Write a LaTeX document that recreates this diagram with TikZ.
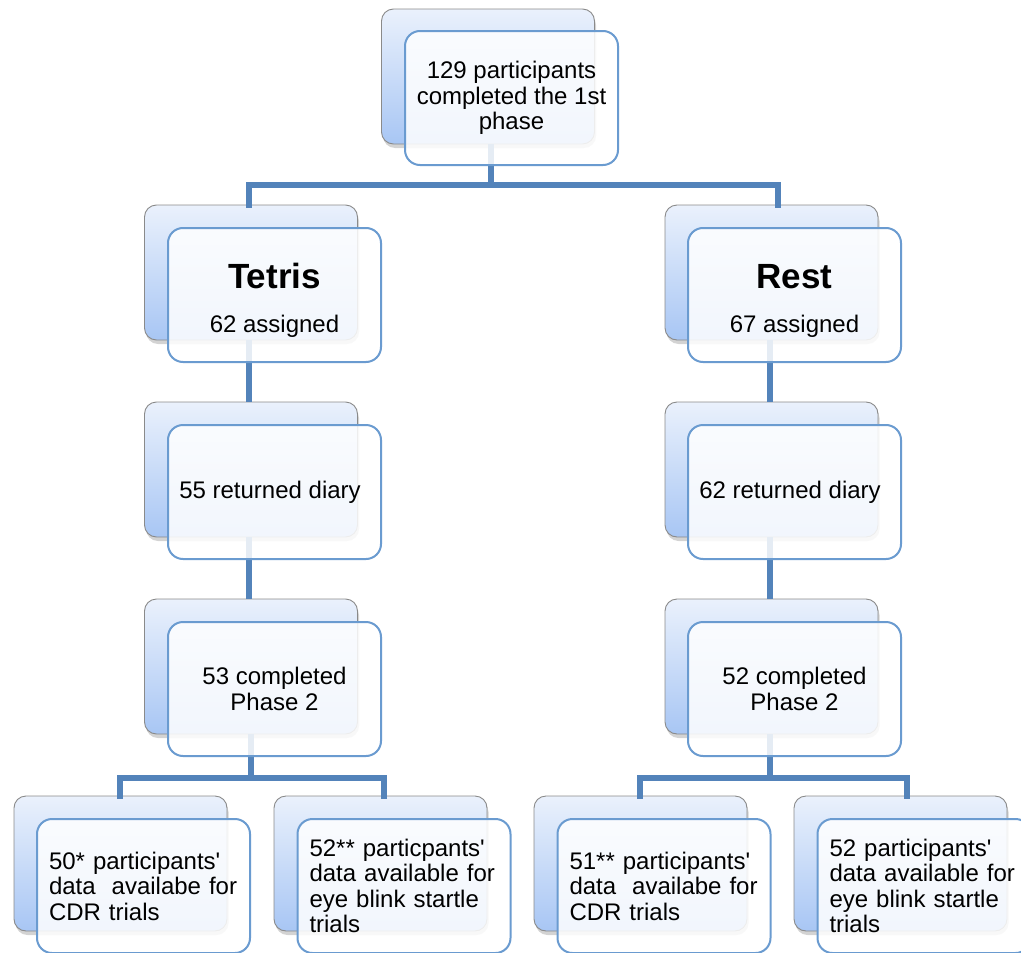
\documentclass[tikz,border=0pt]{standalone}
\usepackage{fontspec}
\setmainfont{Liberation Sans}
\usetikzlibrary{shadows,positioning}
\definecolor{conncol}{HTML}{5383BA}
\definecolor{frontborder}{HTML}{6A9BD0}
\definecolor{backtop}{HTML}{EAF1FC}
\definecolor{backbot}{HTML}{A8C6F4}
\definecolor{backborder}{HTML}{8A8A8A}
\tikzset{
  backbox/.style={draw=backborder, line width=0.9pt, rounded corners=12pt,
    top color=backtop, bottom color=backbot, minimum width=213pt, minimum height=135pt,
    inner sep=0pt, drop shadow={opacity=0.35, shadow xshift=1.5pt, shadow yshift=-4pt}},
  frontbox/.style={draw=frontborder, line width=2pt, rounded corners=15pt,
    fill=white, fill opacity=0.85, text opacity=1, minimum width=213pt, minimum height=134pt,
    inner sep=0pt, align=center, font=\fontsize{24}{25.5}\selectfont},
  leftbox/.style={frontbox, text width=189pt, inner xsep=12pt, align=left},
  conn/.style={draw=conncol, line width=6.5pt},
}
\newcommand{\apos}{\textquotesingle}
\begin{document}
\begin{tikzpicture}[x=1pt,y=-1pt]
\useasboundingbox (0,0) rectangle (1021,953);
% junction coordinates
\coordinate (j1) at (491,185);
\coordinate (dT) at (249,205);
\coordinate (dR) at (778,205);
\coordinate (jL) at (251,778);
\coordinate (jR) at (770,778);
\coordinate (d1) at (120,796);
\coordinate (d2) at (384,796);
\coordinate (d3) at (640,796);
\coordinate (d4) at (907,796);

% back boxes
\node[backbox] (topB) at (488,76.5) {};
\node[backbox] (t1B) at (251,272.5) {};
\node[backbox] (r1B) at (771.5,272.5) {};
\node[backbox] (t2B) at (251,469.5) {};
\node[backbox] (r2B) at (771.5,469.5) {};
\node[backbox] (t3B) at (251,666.5) {};
\node[backbox] (r3B) at (771.5,666.5) {};
\node[backbox] (b1B) at (120.5,863.5) {};
\node[backbox] (b2B) at (380.5,863.5) {};
\node[backbox] (b3B) at (640.5,863.5) {};
\node[backbox] (b4B) at (900.5,863.5) {};

% connectors
\draw[conn] (topB.south -| j1) -- (j1);
\draw[conn, line cap=rect] (dT) |- (j1) -| (dR);
\draw[conn] (t1B.south -| dT) -- (t2B.north -| dT);
\draw[conn] (t2B.south -| dT) -- (t3B.north -| dT);
\draw[conn] (r1B.south -| jR) -- (r2B.north -| jR);
\draw[conn] (r2B.south -| jR) -- (r3B.north -| jR);
\draw[conn] (t3B.south -| jL) -- (jL);
\draw[conn, line cap=rect] (d1) |- (jL) -| (d2);
\draw[conn] (r3B.south -| jR) -- (jR);
\draw[conn, line cap=rect] (d3) |- (jR) -| (d4);

% front boxes
\node[frontbox] (top) at (511.5,98) {129 participants\\completed the 1st\\phase};
\node[frontbox] (t1) at (274.5,295) {\rule{0pt}{36pt}{\fontsize{35}{40}\selectfont\bfseries Tetris}\\[18pt]62 assigned};
\node[frontbox] (r1) at (794.5,295) {\rule{0pt}{36pt}{\fontsize{35}{40}\selectfont\bfseries Rest}\\[18pt]67 assigned};
\node[frontbox] (t2) at (274.5,492) {55 returned diary\hspace{9pt}};
\node[frontbox] (r2) at (794.5,492) {62 returned diary\hspace{9pt}};
\node[frontbox] (t3) at (274.5,689) {53 completed\\Phase 2};
\node[frontbox] (r3) at (794.5,689) {52 completed\\Phase 2};
\node[leftbox] (b1) at (143.5,886) {50* participants\apos\\data~ availabe for\\CDR trials};
\node[leftbox] (b2) at (404,886) {52** particpants\apos\\data available for\\eye blink startle\\trials};
\node[leftbox] (b3) at (664,886) {51** participants\apos\\data~ availabe for\\CDR trials};
\node[leftbox] (b4) at (924,886) {52 participants\apos\\data available for\\eye blink startle\\trials};
\end{tikzpicture}
\end{document}
